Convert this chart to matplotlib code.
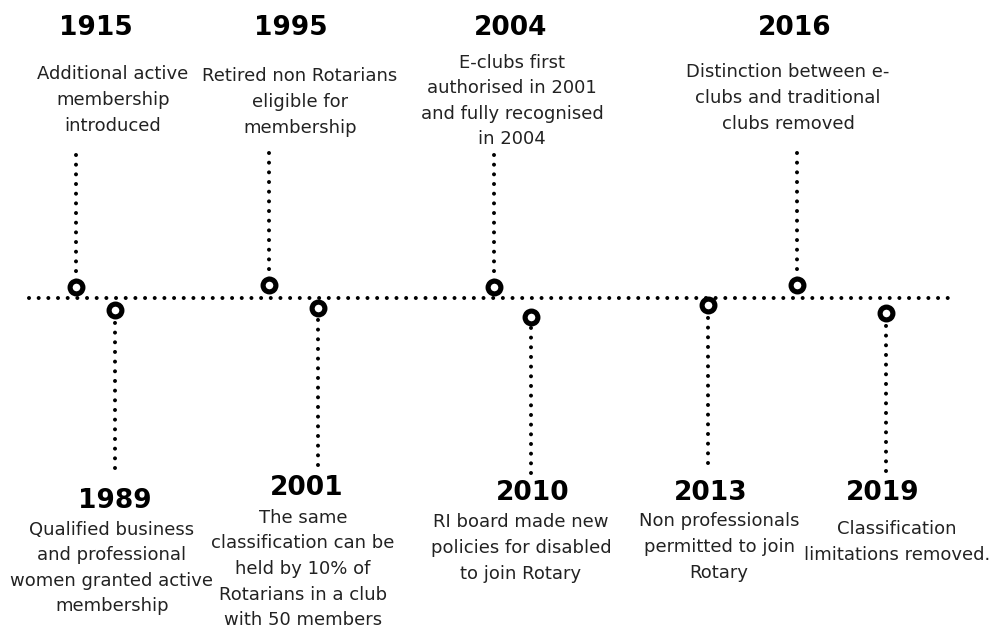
import matplotlib
matplotlib.use('Agg')
import matplotlib.pyplot as plt


#- Timeline content:

years = ['1915', '1989', '1995', '2001', '2004', '2010', '2013', '2016', '2019']
descriptions = [
    'Additional active\nmembership\nintroduced',
    'Qualified business\nand professional\nwomen granted active\nmembership',
    'Retired non Rotarians\neligible for\nmembership',
    'The same\nclassification can be\nheld by 10% of\nRotarians in a club\nwith 50 members',
    'E-clubs first\nauthorised in 2001\nand fully recognised\nin 2004',
    'RI board made new\npolicies for disabled\nto join Rotary',
    'Non professionals\npermitted to join\nRotary',
    'Distinction between e-\nclubs and traditional\nclubs removed',
    'Classification\nlimitations removed.',
]


#- Layout (pixel coordinates, y downwards):

pin_x = [76, 115, 269, 318, 494, 531, 708, 797, 886]
pin_y = [287, 310, 285, 308, 287, 317, 305, 285, 313]
stem_end = [155, 468, 153, 465, 155, 473, 463, 153, 471]
year_x = [96, 115, 291, 307, 511, 533, 711, 795, 883]
year_y = [28, 501, 28, 488, 28, 493, 493, 28, 493]
desc_x = [113, 112, 300, 303, 512, 521, 719, 788, 897]
desc_y = [100, 568, 102, 569, 101, 548, 547, 98, 542]

dot_style = dict(color='black', linewidth=2.9, linestyle=(0, (0.001, 2.4)),
                 dash_capstyle='round', solid_capstyle='round')

fig = plt.figure(figsize=(9.91, 6.30), dpi=100)
ax = fig.add_axes([0, 0, 1, 1])
ax.set_xlim(0, 991)
ax.set_ylim(630, 0)
ax.axis('off')

#- Main dotted line:
ax.plot([29, 955], [298, 298], zorder=1, **dot_style)

for i in range(len(years)):
    ax.plot([pin_x[i], pin_x[i]], [stem_end[i], pin_y[i]], zorder=2, **dot_style)
    ax.plot(pin_x[i], pin_y[i], 'o', markersize=9.2, markeredgewidth=3.7,
            markerfacecolor='white', markeredgecolor='black', zorder=3)
    ax.text(year_x[i], year_y[i], years[i], ha='center', va='center',
            fontsize=19, fontweight='bold', color='black')
    ax.text(desc_x[i], desc_y[i], descriptions[i], ha='center', va='center',
            fontsize=13, color='#222222', linespacing=1.54)

fig.savefig('out.png', dpi=100)
